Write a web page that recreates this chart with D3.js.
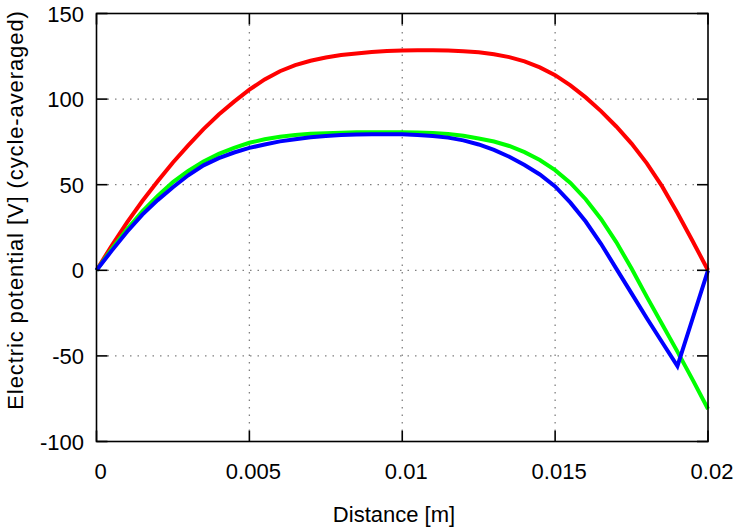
<!DOCTYPE html>
<html>
<head>
<meta charset="utf-8">
<script src="https://cdn.jsdelivr.net/npm/d3@7"></script>
<style>
  body { margin: 0; background: #fff; }
  text { font-family: "Liberation Sans", Arial, sans-serif; font-size: 22px; fill: #000; }
</style>
</head>
<body>
<svg width="740" height="530"></svg>
<script>
// distance in metres, one sample every 0.5 mm
var distance = [0, 0.0005, 0.001, 0.0015, 0.002, 0.0025, 0.003, 0.0035, 0.004, 0.0045,
                0.005, 0.0055, 0.006, 0.0065, 0.007, 0.0075, 0.008, 0.0085, 0.009, 0.0095,
                0.010, 0.0105, 0.011, 0.0115, 0.012, 0.0125, 0.013, 0.0135, 0.014, 0.0145,
                0.015, 0.0155, 0.016, 0.0165, 0.017, 0.0175, 0.018, 0.0185, 0.019, 0.0195, 0.020];
var redValues   = [0, 14.5, 28, 40.5, 52, 63, 73, 82.5, 91, 98.5,
                   105.5, 111.5, 116.3, 119.8, 122.4, 124.3, 125.7, 126.7, 127.5, 128.1,
                   128.4, 128.5, 128.5, 128.4, 128, 127.3, 126.2, 124.5, 122, 118.5,
                   114, 108, 101, 93, 84, 74, 62.5, 49, 33.5, 17, 0];
var greenValues = [0, 12.5, 24, 34.5, 43.5, 51.5, 58, 63.5, 68, 71.5,
                   74.5, 76.5, 78, 79, 79.7, 80.1, 80.4, 80.6, 80.7, 80.7,
                   80.6, 80.5, 80.2, 79.6, 78.6, 77, 75.2, 72.6, 69, 64.4,
                   58.5, 51, 41.5, 30, 16.5, 1, -15.5, -31.5, -47.5, -64, -81];
var blueValues  = [0, 11.5, 22.5, 32.5, 41, 48.5, 55.5, 61.3, 65.5, 68.8,
                   71.5, 73.5, 75.3, 76.6, 77.7, 78.4, 79, 79.3, 79.5, 79.5,
                   79.4, 79.1, 78.5, 77.5, 75.9, 73.5, 70.3, 66.3, 61.5, 56,
                   49, 39.5, 28.5, 15.5, 1, -13.5, -28, -42, -56, -28, 0];
var xTicks = [0, 0.005, 0.01, 0.015, 0.02];
var yTicks = [-100, -50, 0, 50, 100, 150];

var svg = d3.select("svg");

var pLeft = 96.5, pRight = 708, pTop = 13.5, pBottom = 441.5;
var x = d3.scaleLinear().domain([0, 0.02]).range([pLeft, pRight]);
var y = d3.scaleLinear().domain([-100, 150]).range([pBottom, pTop]);
var tickLen = 11;

// grid (dotted), skipping lines on the border
var grid = svg.append("g")
    .attr("stroke", "#808080")
    .attr("stroke-width", 1.3)
    .attr("stroke-dasharray", "1.5,6");
xTicks.slice(1, -1).forEach(function (t) {
    grid.append("line")
        .attr("x1", x(t)).attr("x2", x(t))
        .attr("y1", pTop + tickLen).attr("y2", pBottom - tickLen);
});
yTicks.slice(1, -1).forEach(function (t) {
    grid.append("line")
        .attr("x1", pLeft + tickLen).attr("x2", pRight - tickLen)
        .attr("y1", y(t)).attr("y2", y(t));
});

// curves
var line = d3.line()
    .x(function (d) { return x(d[0]); })
    .y(function (d) { return y(d[1]); });

var series = [
    { values: redValues, color: "#ff0000" },
    { values: greenValues, color: "#00ff00" },
    { values: blueValues, color: "#0000ff" }
];
series.forEach(function (s) {
    svg.append("path")
        .datum(distance.map(function (d, i) { return [d, s.values[i]]; }))
        .attr("fill", "none")
        .attr("stroke", s.color)
        .attr("stroke-width", 4)
        .attr("d", line);
});

// border
svg.append("rect")
    .attr("x", pLeft).attr("y", pTop)
    .attr("width", pRight - pLeft).attr("height", pBottom - pTop)
    .attr("fill", "none")
    .attr("stroke", "#000")
    .attr("stroke-width", 1.6);

// inward ticks on all four sides
var ticks = svg.append("g").attr("stroke", "#000").attr("stroke-width", 1.6);
xTicks.forEach(function (t) {
    ticks.append("line").attr("x1", x(t)).attr("x2", x(t)).attr("y1", pBottom).attr("y2", pBottom - tickLen);
    ticks.append("line").attr("x1", x(t)).attr("x2", x(t)).attr("y1", pTop).attr("y2", pTop + tickLen);
});
yTicks.forEach(function (t) {
    ticks.append("line").attr("x1", pLeft).attr("x2", pLeft + tickLen).attr("y1", y(t)).attr("y2", y(t));
    ticks.append("line").attr("x1", pRight).attr("x2", pRight - tickLen).attr("y1", y(t)).attr("y2", y(t));
});

// tick labels
xTicks.forEach(function (t) {
    svg.append("text")
        .text(t)
        .attr("text-anchor", "middle")
        .attr("x", x(t) + 4)
        .attr("y", 479);
});
yTicks.forEach(function (t) {
    svg.append("text")
        .text(t)
        .attr("text-anchor", "end")
        .attr("x", 84)
        .attr("y", y(t) + 8);
});

// axis titles
svg.append("text")
    .text("Distance [m]")
    .attr("text-anchor", "middle")
    .attr("x", 394)
    .attr("y", 522);

svg.append("text")
    .text("Electric potential [V] (cycle-averaged)")
    .attr("text-anchor", "middle")
    .attr("letter-spacing", 0.9)
    .attr("transform", "translate(23,210) rotate(-90)");
</script>
</body>
</html>
